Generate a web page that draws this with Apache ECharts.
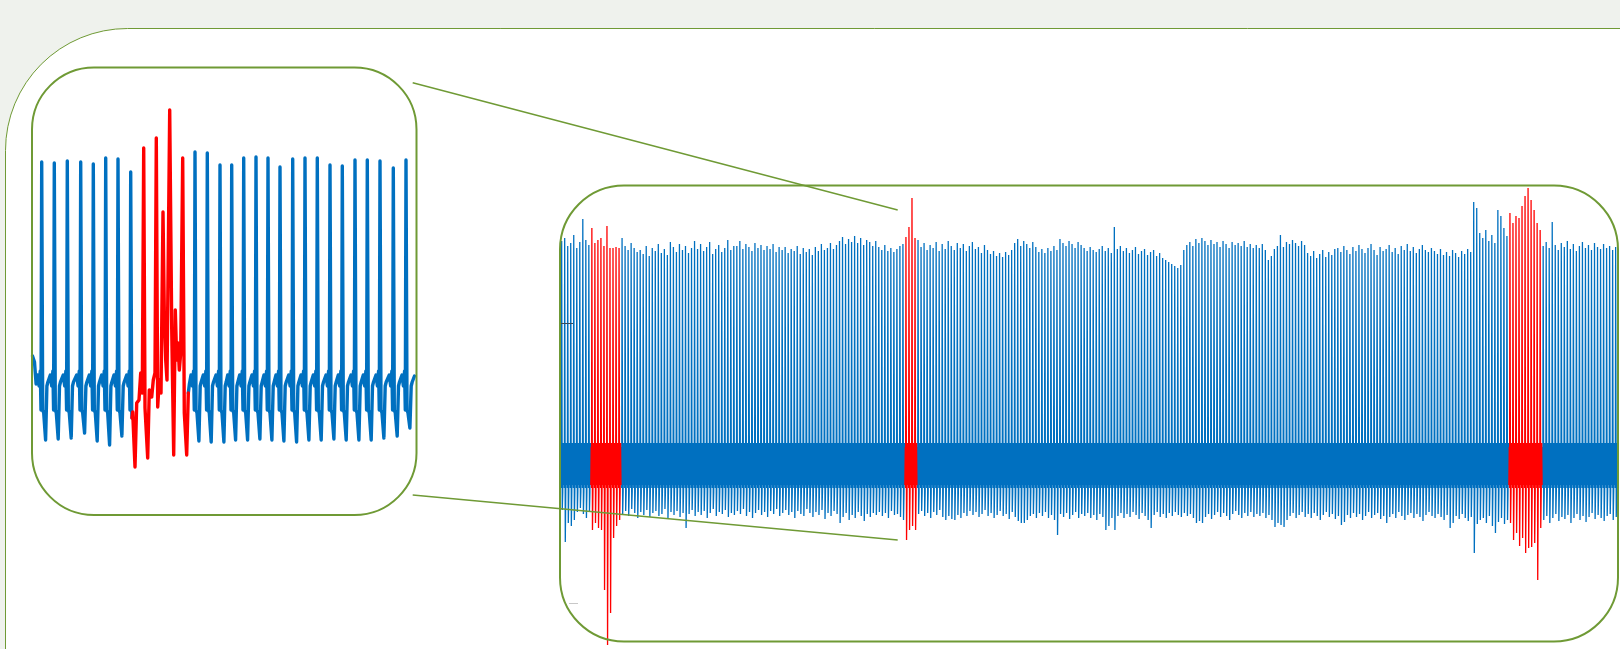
<!DOCTYPE html>
<html>
<head>
<meta charset="utf-8">
<script src="https://cdn.jsdelivr.net/npm/echarts@6/dist/echarts.min.js"></script>
<style>
  html, body { margin: 0; padding: 0; background: #eff2ed; }
  #chart { width: 1620px; height: 649px; }
</style>
</head>
<body>
<div id="chart"></div>
<script>
// ---------- Long recording strip (one entry per beat, mV) ----------
const stripPeaks = [
  2.27, 2.30, 2.22, 2.25, 2.33, 2.20, 2.26, 2.49, 2.28, 2.23,
  2.40, 2.25, 2.28, 2.30, 2.22, 2.42, 2.20, 2.20, 2.21, 2.20,
  2.30, 2.22, 2.18, 2.25, 2.20, 2.16,
  2.18, 2.14, 2.22, 2.12, 2.20, 2.17, 2.24, 2.15, 2.19, 2.13, 2.26, 2.21, 2.16, 2.24, 2.18, 2.22, 2.15, 2.20, 2.27, 2.19,
  2.24, 2.17, 2.21, 2.26, 2.14, 2.19, 2.23, 2.16, 2.20, 2.28, 2.18, 2.22,
  2.22, 2.27, 2.19, 2.24, 2.21, 2.17, 2.25, 2.20, 2.23, 2.18, 2.22, 2.19, 2.24, 2.16, 2.21,
  2.18, 2.21, 2.15, 2.19, 2.17, 2.22, 2.14, 2.20, 2.16, 2.19, 2.13, 2.21, 2.17, 2.24, 2.18, 2.20, 2.25, 2.19, 2.23,
  2.27, 2.31, 2.24, 2.29, 2.26, 2.32, 2.25, 2.30, 2.23, 2.28, 2.26, 2.22, 2.27,
  2.21, 2.18, 2.23, 2.17, 2.20, 2.16, 2.19, 2.22, 2.24,
  2.31, 2.41, 2.70, 2.30,
  2.28, 2.21, 2.25, 2.18, 2.23, 2.20, 2.26, 2.17, 2.24, 2.19, 2.27, 2.22, 2.18, 2.25,
  2.20, 2.24, 2.17, 2.22, 2.26, 2.19, 2.21, 2.15, 2.23, 2.18,
  2.14, 2.17, 2.12, 2.15, 2.11, 2.16, 2.13, 2.18,
  2.25, 2.29, 2.22, 2.27, 2.24, 2.20, 2.26, 2.21,
  2.16, 2.19, 2.15, 2.20, 2.17, 2.22, 2.18,
  2.29, 2.25, 2.22, 2.27, 2.24, 2.20, 2.26, 2.23,
  2.20, 2.17, 2.21, 2.18, 2.16, 2.19, 2.22, 2.17, 2.20, 2.15,
  2.41,
  2.19, 2.22, 2.17, 2.20, 2.15, 2.18, 2.21, 2.14, 2.17, 2.19, 2.13, 2.16, 2.18, 2.12, 2.15,
  2.10, 2.08, 2.06, 2.04, 2.02, 2.00, 2.03,
  2.18, 2.23, 2.26, 2.22, 2.29, 2.25, 2.30, 2.27, 2.23, 2.28, 2.24, 2.26, 2.21, 2.27, 2.24, 2.20, 2.26, 2.23, 2.25, 2.22, 2.27, 2.21, 2.24, 2.20, 2.23,
  2.20, 2.24, 2.18, 2.08, 2.12,
  2.19, 2.22, 2.33,
  2.21, 2.26, 2.24, 2.28, 2.25, 2.22, 2.27, 2.23,
  2.15, 2.12, 2.17, 2.10, 2.14, 2.18, 2.11, 2.16, 2.13, 2.19,
  2.20, 2.16, 2.22, 2.18, 2.14, 2.21, 2.17, 2.23, 2.19, 2.15, 2.20, 2.24, 2.18, 2.13, 2.21, 2.17,
  2.19, 2.23, 2.16, 2.20, 2.14, 2.22, 2.18, 2.24, 2.17, 2.21, 2.15, 2.19, 2.23, 2.18, 2.16, 2.20,
  2.17, 2.14, 2.19, 2.13, 2.16, 2.12, 2.18, 2.15, 2.11, 2.17, 2.14, 2.19, 2.16,
  2.66, 2.60, 2.35,
  2.30, 2.38, 2.27, 2.33, 2.25,
  2.58, 2.52,
  2.40, 2.32,
  2.55, 2.45, 2.52, 2.50, 2.62, 2.72, 2.80, 2.68, 2.58, 2.45, 2.38,
  2.22, 2.26, 2.20, 2.46, 2.23, 2.18, 2.25, 2.21, 2.27, 2.19, 2.24, 2.17, 2.22, 2.26, 2.20, 2.23, 2.18, 2.25, 2.21, 2.19, 2.24, 2.20, 2.22, 2.18, 2.21
];

const stripTroughs = [
  -0.42, -0.74, -0.55, -0.58, -0.52, -0.44, -0.40, -0.46, -0.50, -0.43,
  -0.62, -0.55, -0.60, -0.62, -1.22, -1.77, -1.45, -0.70, -0.58, -0.52,
  -0.46, -0.43, -0.48, -0.41, -0.45, -0.50,
  -0.44, -0.47, -0.42, -0.49, -0.45, -0.43, -0.48, -0.46, -0.41, -0.50, -0.44, -0.47, -0.43, -0.49, -0.45, -0.60, -0.46, -0.42, -0.48, -0.44,
  -0.47, -0.43, -0.50, -0.45, -0.41, -0.48, -0.44, -0.46, -0.42, -0.49, -0.45, -0.47,
  -0.43, -0.46, -0.41, -0.48, -0.44, -0.50, -0.45, -0.42, -0.47, -0.44, -0.49, -0.43, -0.46, -0.41, -0.48,
  -0.45, -0.42, -0.47, -0.44, -0.50, -0.43, -0.46, -0.48, -0.41, -0.45, -0.49, -0.44, -0.47, -0.42, -0.51, -0.45, -0.48, -0.43, -0.46,
  -0.55, -0.49, -0.45, -0.52, -0.47, -0.50, -0.44, -0.48, -0.53, -0.46, -0.49, -0.45, -0.47,
  -0.44, -0.48, -0.45, -0.50, -0.43, -0.47, -0.46, -0.49, -0.52,
  -0.72, -0.62, -0.58, -0.62,
  -0.46, -0.43, -0.48, -0.45, -0.50, -0.44, -0.47, -0.42, -0.49, -0.52, -0.48, -0.51, -0.52, -0.47,
  -0.50, -0.45, -0.48, -0.43, -0.47, -0.44, -0.49, -0.46, -0.42, -0.48,
  -0.45, -0.50, -0.47, -0.43, -0.48, -0.46, -0.51, -0.44,
  -0.49, -0.53, -0.55, -0.55, -0.52, -0.48, -0.46, -0.50,
  -0.45, -0.48, -0.44, -0.50, -0.47, -0.52, -0.67,
  -0.46, -0.49, -0.45, -0.51, -0.47, -0.44, -0.50, -0.46,
  -0.48, -0.45, -0.50, -0.47, -0.52, -0.46, -0.49, -0.62, -0.58, -0.50,
  -0.62,
  -0.48, -0.45, -0.50, -0.46, -0.49, -0.44, -0.47, -0.51, -0.45, -0.48, -0.52, -0.60, -0.47, -0.44, -0.49,
  -0.46, -0.50, -0.45, -0.48, -0.44, -0.47, -0.49,
  -0.45, -0.48, -0.46, -0.50, -0.55, -0.53, -0.55, -0.49, -0.46, -0.51, -0.47, -0.44, -0.49, -0.45, -0.48, -0.52, -0.46, -0.43, -0.47, -0.50, -0.45, -0.48, -0.44, -0.49, -0.46,
  -0.48, -0.45, -0.50, -0.47, -0.52,
  -0.59, -0.55, -0.57,
  -0.59, -0.52, -0.48, -0.45, -0.50, -0.47, -0.44, -0.49,
  -0.46, -0.50, -0.45, -0.48, -0.52, -0.47, -0.44, -0.49, -0.46, -0.51,
  -0.48, -0.57, -0.54, -0.47, -0.50, -0.45, -0.49, -0.46, -0.52, -0.48, -0.44, -0.50, -0.47, -0.45, -0.51, -0.48,
  -0.55, -0.49, -0.46, -0.50, -0.44, -0.48, -0.52, -0.47, -0.45, -0.50, -0.46, -0.49, -0.53, -0.47, -0.44, -0.48,
  -0.50, -0.46, -0.49, -0.52, -0.47, -0.60, -0.55, -0.48, -0.51, -0.46, -0.50, -0.53, -0.49,
  -0.85, -0.56, -0.52,
  -0.50, -0.55, -0.48, -0.58, -0.65,
  -0.54, -0.50,
  -0.56, -0.52,
  -0.55, -0.72, -0.65, -0.78, -0.70, -0.85, -0.80, -0.79, -0.75, -1.12, -0.60,
  -0.52, -0.48, -0.55, -0.50, -0.46, -0.53, -0.49, -0.51, -0.47, -0.55, -0.50, -0.46, -0.52, -0.48, -0.54, -0.49, -0.45, -0.51, -0.47, -0.50, -0.53, -0.48, -0.46, -0.52, -0.49
];

// Runs of abnormal beats (inclusive beat indices), drawn in red
const stripEvents = [[10, 19], [114, 117], [314, 324]];

// Compressed beat morphology: [fraction of beat interval, level in mV]; 'R' / 'S' take the beat's own peak / trough
const stripBeatShape = [[0.00, 0.21], [0.10, -0.20], [0.22, 'R'], [0.42, 'S'], [0.58, -0.24], [0.72, 0.25], [0.86, -0.17]];

// ---------- Magnified excerpt ----------
const detailBeatTimes = [9.7, 22.3, 35.3, 48.7, 61.3, 73.7, 86.0, 98.7,
  163.0, 175.3, 188.0, 199.7, 211.7, 224.0, 236.0, 248.0, 260.7, 273.0, 285.3, 298.0, 310.3, 323.0, 335.3, 348.0, 361.3, 374.0];
const detailPeaks = [2.16, 2.15, 2.17, 2.16, 2.14, 2.20, 2.19, 2.06,
  2.26, 2.25, 2.13, 2.13, 2.20, 2.21, 2.20, 2.11, 2.19, 2.20, 2.20, 2.13, 2.12, 2.18, 2.18, 2.17, 2.10, 2.18];
const detailTroughs = [-0.62, -0.61, -0.60, -0.55, -0.63, -0.67, -0.58, -0.62,
  -0.63, -0.64, -0.64, -0.62, -0.62, -0.61, -0.62, -0.63, -0.64, -0.62, -0.62, -0.61, -0.62, -0.62, -0.62, -0.60, -0.58, -0.50];
// Beat morphology at full resolution: [offset from R, level in mV]
const detailBeatShape = [[-5.6, -0.06], [-4.0, 0.03], [-2.6, -0.08], [-1.4, 0.07], [-0.7, -0.32], [0, 'R'],
  [1.0, -0.32], [2.0, -0.35], [3.9, 'S'], [5.2, -0.08], [6.2, -0.04]];
const detailLead = [[0.5, 0.22], [2.5, 0.16]];
const detailTail = [[382.5, 0.02]];
// Abnormal run inside the excerpt, sample by sample [time, mV]
const detailEvent = [[100.0, -0.40], [100.7, -0.34], [103.0, -0.89], [104.7, -0.25], [107.0, -0.22], [108.7, 0.05],
  [110.3, -0.15], [111.7, 2.30], [113.0, -0.30], [115.7, -0.80], [117.3, -0.12], [119.7, -0.19], [121.3, -0.02],
  [123.0, 0.05], [124.3, 2.40], [125.7, -0.29], [127.3, -0.02], [129.0, -0.15], [131.0, 1.66], [132.3, 0.65],
  [133.7, 0.18], [135.0, -0.02], [137.7, 2.68], [139.7, 0.51], [141.7, -0.77], [143.3, 0.68], [144.7, 0.18],
  [146.0, 0.35], [147.3, 0.08], [148.7, 0.25], [150.7, 2.20], [152.3, -0.35], [154.7, -0.77], [156.3, -0.15]];

// ---------- helpers ----------
function beatPoints(center, peak, trough, shape, scale) {
  return shape.map(([off, lvl]) => [
    center + off * scale,
    lvl === 'R' ? peak : (lvl === 'S' ? trough : lvl)
  ]);
}

function inEvent(i) {
  return stripEvents.some(([a, b]) => i >= a && i <= b);
}

// strip: split into colour runs, each run continuing from the previous point
const stripRuns = [];
let current = null;
let lastPoint = null;
stripPeaks.forEach((pk, i) => {
  const red = inEvent(i);
  const pts = beatPoints(i, pk, stripTroughs[i], stripBeatShape, 1);
  if (!current || current.red !== red) {
    current = { red, data: lastPoint ? [lastPoint] : [] };
    stripRuns.push(current);
  }
  current.data.push(...pts);
  lastPoint = pts[pts.length - 1];
});

// excerpt: normal beats around the abnormal run
const evStart = detailEvent[0][0];
const evEnd = detailEvent[detailEvent.length - 1][0];
let detailAll = [...detailLead];
detailBeatTimes.forEach((t, i) => {
  detailAll.push(...beatPoints(t, detailPeaks[i], detailTroughs[i], detailBeatShape, 1));
});
detailAll.push(...detailTail);
const detailBefore = detailAll.filter(p => p[0] < evStart).concat([detailEvent[0]]);
const detailAfter = [detailEvent[detailEvent.length - 1]].concat(detailAll.filter(p => p[0] > evEnd));

const BLUE = '#0070c0';
const RED = '#ff0000';
const GREEN = '#6f9a35';

const series = [];
const blueStrip = [];
const redStrip = [];
stripRuns.forEach(run => {
  (run.red ? redStrip : blueStrip).push(series.length);
  series.push({
    type: 'line', xAxisIndex: 0, yAxisIndex: 0, data: run.data,
    showSymbol: false, symbol: 'none', silent: true, z: run.red ? 4 : 3,
    lineStyle: { width: 1.3, color: run.red ? RED : BLUE }
  });
});
[[detailBefore, BLUE], [detailEvent, RED], [detailAfter, BLUE]].forEach(([d, c]) => {
  series.push({
    type: 'line', xAxisIndex: 1, yAxisIndex: 1, data: d,
    showSymbol: false, symbol: 'none', silent: true, z: c === RED ? 4 : 3,
    lineStyle: { width: 3.4, color: c, join: 'round', cap: 'round' }
  });
});

const option = {
  animation: false,
  backgroundColor: '#eff2ed',
  grid: [
    { left: 561, right: 2, top: 178, bottom: 1, containLabel: false },
    { left: 32, width: 384, top: 88, height: 470, containLabel: false }
  ],
  xAxis: [
    { type: 'value', gridIndex: 0, min: 0, max: 350, show: false },
    { type: 'value', gridIndex: 1, min: 0, max: 384, show: false }
  ],
  yAxis: [
    { type: 'value', gridIndex: 0, min: -1.8, max: 2.9, show: false },
    { type: 'value', gridIndex: 1, min: -1.8, max: 2.9, show: false }
  ],
  // spikes drawn lighter than the dense baseline band
  visualMap: [
    { type: 'piecewise', show: false, dimension: 1, seriesIndex: blueStrip,
      pieces: [
        { gt: 0.9, color: '#4894d6' },
        { gt: 0.22, lte: 0.9, color: '#2f86cd' },
        { gte: -0.22, lte: 0.22, color: '#0a6fbe' },
        { lt: -0.22, color: '#3d8ed3' }
      ] },
    { type: 'piecewise', show: false, dimension: 1, seriesIndex: redStrip,
      pieces: [
        { gt: 0.22, color: '#ff2e2e' },
        { gte: -0.22, lte: 0.22, color: '#ff0000' },
        { lt: -0.22, color: '#ff2e2e' }
      ] }
  ],
  graphic: [
    // page panel
    { type: 'rect', z: -10, silent: true,
      shape: { x: 5.5, y: 28.5, width: 1800, height: 900, r: 122 },
      style: { fill: '#ffffff', stroke: GREEN, lineWidth: 1 } },
    // frames
    { type: 'rect', z: 20, silent: true,
      shape: { x: 32, y: 67.5, width: 384.5, height: 447.5, r: 62 },
      style: { fill: null, stroke: GREEN, lineWidth: 2 } },
    { type: 'rect', z: 20, silent: true,
      shape: { x: 560, y: 185.5, width: 1058, height: 456, r: 64 },
      style: { fill: null, stroke: GREEN, lineWidth: 2 } },
    // zoom connectors
    { type: 'line', z: 21, silent: true,
      shape: { x1: 412.7, y1: 82.7, x2: 897.7, y2: 210 },
      style: { stroke: GREEN, lineWidth: 1.4 } },
    { type: 'line', z: 21, silent: true,
      shape: { x1: 412.7, y1: 495, x2: 897.7, y2: 540 },
      style: { stroke: GREEN, lineWidth: 1.4 } },
    // leftover axis ticks on the strip
    { type: 'line', z: 21, silent: true,
      shape: { x1: 561, y1: 323.5, x2: 573, y2: 323.5 },
      style: { stroke: '#3a4a5a', lineWidth: 1 } },
    { type: 'line', z: 21, silent: true,
      shape: { x1: 569, y1: 603.5, x2: 578, y2: 603.5 },
      style: { stroke: '#c8c8c8', lineWidth: 1 } }
  ],
  series: series
};

const chart = echarts.init(document.getElementById('chart'), null, { renderer: 'canvas' });
chart.setOption(option);
</script>
</body>
</html>
